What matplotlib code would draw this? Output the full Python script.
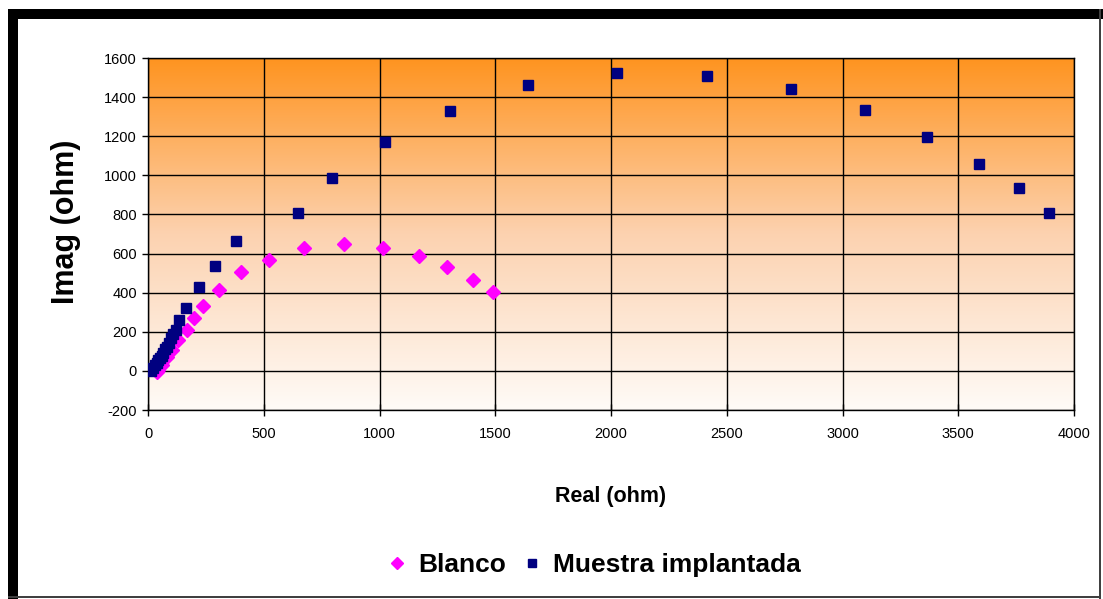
import numpy as np
import matplotlib.pyplot as plt
from matplotlib.patches import Rectangle
from matplotlib.colors import LinearSegmentedColormap

# Blanco (pink diamonds)
blanco_x = [38, 45, 59, 80, 102, 131, 170, 200, 239, 307, 400, 524, 675, 847,
            1016, 1171, 1293, 1402, 1490]
blanco_y = [-5, 5, 31, 73, 107, 158, 209, 272, 332, 412, 504, 567, 627, 649,
            627, 588, 530, 465, 402]

# Muestra implantada (navy squares)
muestra_x = [12, 20, 30, 38, 45, 52, 59, 66, 73, 82, 92, 100, 109, 120, 134,
             164, 220, 289, 380, 649, 795, 1024, 1305, 1640, 2024, 2415, 2777,
             3096, 3365, 3591, 3762, 3894]
muestra_y = [-3, 14, 30, 39, 55, 65, 78, 90, 110, 124, 145, 167, 190, 209, 258,
             320, 428, 537, 665, 809, 986, 1170, 1329, 1462, 1522, 1510, 1442,
             1332, 1198, 1058, 934, 808]

xticks = [0, 500, 1000, 1500, 2000, 2500, 3000, 3500, 4000]
yticks = [-200, 0, 200, 400, 600, 800, 1000, 1200, 1400, 1600]

plt.rcParams['font.family'] = ['Liberation Sans', 'DejaVu Sans']
plt.rcParams['axes.unicode_minus'] = False

W, H = 1103, 599
fig = plt.figure(figsize=(W / 100, H / 100), dpi=100)
fig.patch.set_facecolor('white')

# outer frame: thick black top/left, thin grey right/bottom
fig.patches.append(Rectangle((8 / W, 0), 10 / W, (H - 9) / H, transform=fig.transFigure,
                             facecolor='black', edgecolor='none', zorder=0))
fig.patches.append(Rectangle((8 / W, (H - 19) / H), (W - 8) / W, 10 / H, transform=fig.transFigure,
                             facecolor='black', edgecolor='none', zorder=0))
fig.patches.append(Rectangle((1099 / W, 0), 2 / W, (H - 9) / H, transform=fig.transFigure,
                             facecolor='#404040', edgecolor='none', zorder=0))
fig.patches.append(Rectangle((8 / W, 1 / H), 1093 / W, 2 / H, transform=fig.transFigure,
                             facecolor='#404040', edgecolor='none', zorder=0))

ax = fig.add_axes([148 / W, 1 - 410 / H, (1074 - 148) / W, (410 - 58) / H])

# orange to white gradient background
cmap = LinearSegmentedColormap.from_list('sunset', ['#fffbf7', '#fcd2b0', '#ff9420'])
grad = np.linspace(0, 1, 256).reshape(-1, 1)
ax.imshow(grad, aspect='auto', cmap=cmap, origin='lower', extent=(0, 1, 0, 1),
          transform=ax.transAxes, zorder=0)

ax.plot(blanco_x, blanco_y, linestyle='none', marker='D', markersize=7.5,
        color='#ff00ff', markeredgecolor='#ff00ff', label='Blanco', zorder=3)
ax.plot(muestra_x, muestra_y, linestyle='none', marker='s', markersize=7.5,
        color='#000080', markeredgecolor='#000080', label='Muestra implantada', zorder=4)

ax.set_xlim(0, 4000)
ax.set_ylim(-200, 1600)
ax.set_xticks(xticks)
ax.set_yticks(yticks)
ax.grid(True, color='black', linewidth=1.0, zorder=1)
ax.set_axisbelow(True)
for s in ax.spines.values():
    s.set_color('black')
    s.set_linewidth(1.0)
ax.tick_params(axis='x', direction='inout', length=9, width=1, labelsize=10.5, pad=8)
ax.tick_params(axis='y', direction='out', length=4, width=1, labelsize=10.5, pad=4)

ax.set_xlabel('Real (ohm)', fontsize=15.5, fontweight='bold', labelpad=32)
ax.set_ylabel('Imag (ohm)', fontsize=22, fontweight='bold')
ax.yaxis.set_label_coords(-0.072, 0.534)

fig.legend(loc='center', bbox_to_anchor=(0.537, 0.057), ncol=2, frameon=False,
           prop={'size': 19, 'weight': 'bold'}, handlelength=1.0, handletextpad=0.3,
           columnspacing=0.46, markerscale=0.75)

fig.savefig('out.png', dpi=100)
